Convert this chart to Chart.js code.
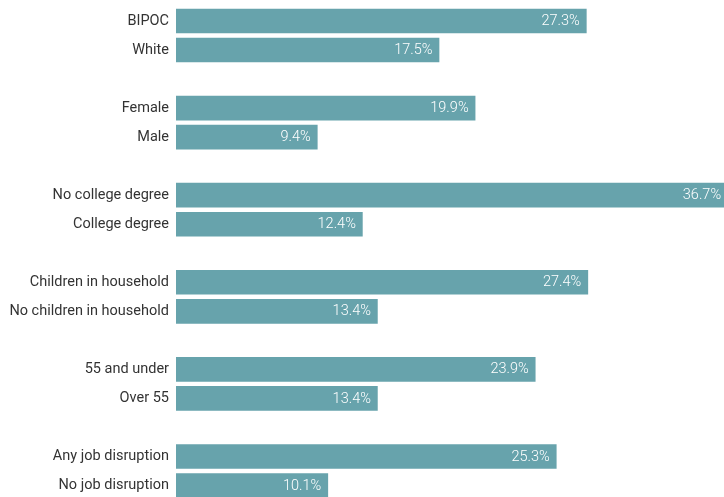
<!DOCTYPE html>
<html>
<head>
<meta charset="utf-8">
<script src="https://cdn.jsdelivr.net/npm/chart.js@4/dist/chart.umd.min.js"></script>
<style>
  html, body { margin: 0; padding: 0; background: #fff; overflow: hidden; }
  #wrap { position: relative; width: 724px; height: 500px; }
</style>
</head>
<body>
<div id="wrap"><canvas id="myChart"></canvas></div>
<script>
"use strict";
// blank entries are the spacer rows between groups
var categories = [
  "BIPOC", "White", "",
  "Female", "Male", "",
  "No college degree", "College degree", "",
  "Children in household", "No children in household", "",
  "55 and under", "Over 55", "",
  "Any job disruption", "No job disruption"
];
var shares = [
  27.3, 17.5, null,
  19.9, 9.4, null,
  36.7, 12.4, null,
  27.4, 13.4, null,
  23.9, 13.4, null,
  25.3, 10.1
];

var barColor = "#67a3ac";

var valueLabels = {
  id: "valueLabels",
  afterDatasetsDraw: function (chart) {
    var c = chart.ctx;
    var meta = chart.getDatasetMeta(0);
    var xs = chart.scales.x;
    c.save();
    c.font = "300 14.5px Roboto";
    c.fillStyle = "#ffffff";
    c.textAlign = "right";
    c.textBaseline = "middle";
    meta.data.forEach(function (bar, i) {
      var v = shares[i];
      if (v === null) return;
      c.fillText(v.toFixed(1) + "%", xs.getPixelForValue(v) - 6.5, bar.y + 0.5);
    });
    c.restore();
  }
};

var ctx = document.getElementById("myChart");
var myBarChart = new Chart(ctx, {
  type: "bar",
  data: {
    labels: categories,
    datasets: [{
      data: shares,
      backgroundColor: barColor,
      borderWidth: 0,
      barThickness: 24
    }]
  },
  options: {
    indexAxis: "y",
    responsive: true,
    maintainAspectRatio: false,
    animation: false,
    layout: { padding: { top: 6.5, right: 0, bottom: 0, left: 0 } },
    plugins: {
      legend: { display: false },
      tooltip: { enabled: false }
    },
    scales: {
      x: {
        display: false,
        min: 0,
        max: 36.46
      },
      y: {
        grid: { display: false, drawTicks: false },
        border: { display: false },
        ticks: {
          padding: 7,
          color: "#333333",
          font: { family: "Roboto", size: 14.5 }
        },
        afterFit: function (scale) {
          scale.width = 176;
          scale.paddingTop = 0;
          scale.paddingBottom = 0;
        }
      }
    }
  },
  plugins: [valueLabels]
});
</script>
</body>
</html>
